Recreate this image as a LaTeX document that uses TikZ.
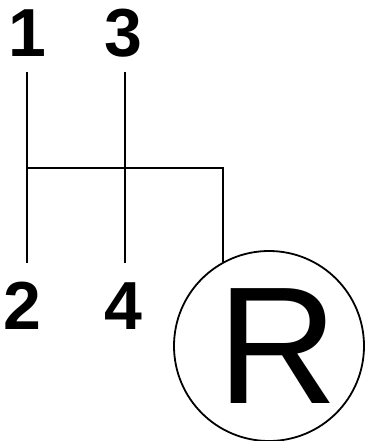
\documentclass[tikz,border=0pt]{standalone}
\usepackage{fontspec}
\setmainfont{Liberation Sans}
\begin{document}
\begin{tikzpicture}[x=1pt,y=-1pt]

\tikzset{gearlabel/.style={inner sep=0pt, font=\fontsize{68}{68}\selectfont\bfseries}}
\tikzset{gateline/.style={line width=2pt, black}}
\tikzset{revring/.style={circle, draw=black, line width=1.8pt, minimum size=190pt, inner sep=0pt}}

\useasboundingbox (0,0) rectangle (366,441);

\node[gearlabel] (n1) at (27,33) {1};
\node[gearlabel] (n3) at (123,33) {3};
\node[gearlabel] (n2) at (22,306) {2};
\node[gearlabel] (n4) at (123,306) {4};
\node[revring] (rev) at (269,346) {};
\node[inner sep=0pt, font=\fontsize{167}{167}\selectfont] (rtxt) at ([xshift=9pt]rev.center) {R};

\coordinate (top1) at (27,72);
\coordinate (bot1) at (27,263);
\coordinate (top3) at (125,72);
\coordinate (bot3) at (125,263);
\coordinate (sel) at (27,168);

\draw[gateline] (top1) -- (bot1);
\draw[gateline] (top3) -- (bot3);
\draw[gateline] (sel) -| (rev.119);

\end{tikzpicture}
\end{document}
